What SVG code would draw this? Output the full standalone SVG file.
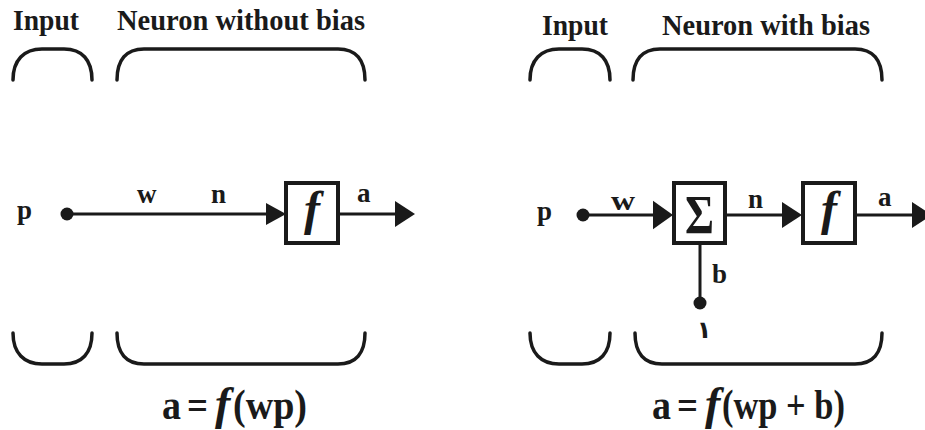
<svg xmlns="http://www.w3.org/2000/svg" width="925" height="430" viewBox="0 0 925 430">
<style>
.hd{font-family:"Liberation Serif","Times New Roman",serif;font-weight:bold;font-size:29px;fill:#1a1a1a}
.lb{font-family:"Liberation Serif","Times New Roman",serif;font-weight:bold;font-size:27px;fill:#1a1a1a}
.fx{font-family:"Liberation Serif","Times New Roman",serif;font-style:italic;font-weight:bold;font-size:48px;fill:#1a1a1a}
.sg{font-family:"Liberation Serif","Times New Roman",serif;font-weight:bold;font-size:54px;fill:#1a1a1a}
.eq{font-family:"Liberation Serif","Times New Roman",serif;font-weight:bold;font-size:42px;fill:#1a1a1a}
.it{font-style:italic;font-size:46px}
.br{fill:none;stroke:#1a1a1a;stroke-width:3.5;stroke-linecap:round}
.bx{fill:#fff;stroke:#1a1a1a;stroke-width:4}
.ln{stroke:#1a1a1a;stroke-width:3;fill:none}
.dt{fill:#1a1a1a}
.ah{fill:#1a1a1a}
</style>
<defs>
<path id="arr" d="M0,0 L-20,-13 L-20,13 Z"/>
</defs>
<rect width="925" height="430" fill="#fff"/>

<g id="labels">
<text class="hd" x="13" y="30" textLength="66" lengthAdjust="spacingAndGlyphs">Input</text>
<text class="hd" x="117" y="30" textLength="248" lengthAdjust="spacingAndGlyphs">Neuron without bias</text>
<text class="hd" x="542" y="35" textLength="66" lengthAdjust="spacingAndGlyphs">Input</text>
<text class="hd" x="662" y="35" textLength="208" lengthAdjust="spacingAndGlyphs">Neuron with bias</text>
</g>

<g id="brackets">
<path class="br" d="M13,80 C13,60 24,49 42,49 L64,49 C82,49 92,60 92,80"/>
<path class="br" d="M117,80 C117,60 126,49 144,49 L338,49 C356,49 365,60 365,80"/>
<path class="br" d="M13,333 C13,353 24,364 42,364 L64,364 C82,364 92,353 92,333"/>
<path class="br" d="M117,333 C117,353 126,364 144,364 L338,364 C356,364 365,353 365,333"/>
<path class="br" d="M530,80 C530,60 541,49 559,49 L582,49 C600,49 610,60 610,80"/>
<path class="br" d="M633,80 C633,60 642,49 660,49 L855,49 C873,49 882,60 882,80"/>
<path class="br" d="M530,333 C530,353 541,364 559,364 L582,364 C600,364 610,353 610,333"/>
<path class="br" d="M635,333 C635,353 644,364 662,364 L855,364 C873,364 882,353 882,333"/>
</g>

<g id="connectors">
<line class="ln" x1="67" y1="214" x2="267" y2="214"/>
<use href="#arr" class="ah" transform="translate(286,214) scale(1,0.85)"/>
<line class="ln" x1="340" y1="214" x2="397" y2="214"/>
<use href="#arr" class="ah" transform="translate(415,214)"/>
<line class="ln" x1="583" y1="215" x2="654" y2="215"/>
<use href="#arr" class="ah" transform="translate(673,215) scale(1,1.1)"/>
<line class="ln" x1="727" y1="215" x2="784" y2="215"/>
<use href="#arr" class="ah" transform="translate(802,215)"/>
<line class="ln" x1="857" y1="215" x2="912" y2="215"/>
<use href="#arr" class="ah" transform="translate(932,215)"/>
<line class="ln" x1="700" y1="245" x2="700" y2="303"/>
</g>

<g id="node-p-left">
<text class="lb" x="17" y="219">p</text>
<circle class="dt" cx="67" cy="214" r="6.5"/>
</g>
<text class="lb" x="137" y="203">w</text>
<text class="lb" x="211" y="203">n</text>
<g id="node-f-left">
<rect class="bx" x="286" y="183" width="52" height="60"/>
<text class="fx" x="312" y="225" text-anchor="middle">f</text>
</g>
<text class="lb" x="357" y="202">a</text>

<g id="node-p-right">
<text class="lb" x="537" y="220">p</text>
<circle class="dt" cx="583" cy="215" r="6.5"/>
</g>
<text class="lb" x="611" y="210" textLength="24" lengthAdjust="spacingAndGlyphs">w</text>
<g id="node-sum">
<rect class="bx" x="674" y="183" width="51" height="60"/>
<text class="sg" x="685" y="233" textLength="29" lengthAdjust="spacingAndGlyphs">Σ</text>
</g>
<text class="lb" x="748" y="208">n</text>
<g id="node-f-right">
<rect class="bx" x="803" y="183" width="52" height="60"/>
<text class="fx" x="829" y="225" text-anchor="middle">f</text>
</g>
<text class="lb" x="878" y="206">a</text>
<g id="node-bias">
<circle class="dt" cx="700" cy="303" r="6.5"/>
<text class="lb" x="712" y="283">b</text>
<text x="704" y="338" text-anchor="middle" style="font-family:'DejaVu Sans','Noto Sans',sans-serif;font-size:24px;font-weight:bold;fill:#1a1a1a">۱</text>
</g>

<g id="equations">
<text class="eq" x="162" y="419" textLength="19" lengthAdjust="spacingAndGlyphs">a</text>
<text class="eq" x="187" y="419" textLength="21" lengthAdjust="spacingAndGlyphs">=</text>
<text class="eq it" x="215" y="419">f</text>
<text class="eq" x="233" y="419" textLength="74" lengthAdjust="spacingAndGlyphs">(wp)</text>
<text class="eq" x="652" y="419" textLength="19" lengthAdjust="spacingAndGlyphs">a</text>
<text class="eq" x="677" y="419" textLength="21" lengthAdjust="spacingAndGlyphs">=</text>
<text class="eq it" x="705" y="419">f</text>
<text class="eq" x="722" y="419" textLength="123" lengthAdjust="spacingAndGlyphs">(wp + b)</text>
</g>
</svg>
